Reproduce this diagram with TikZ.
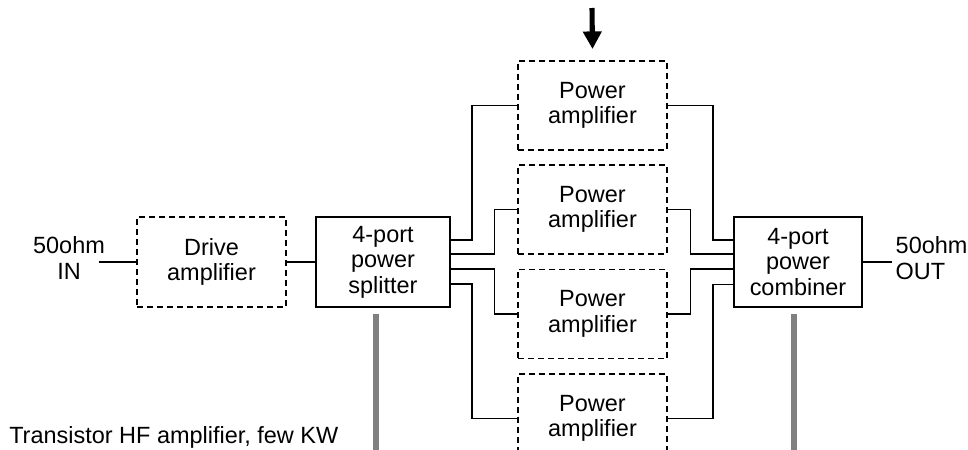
\documentclass[tikz,border=0pt]{standalone}
\usepackage{fontspec}
\setmainfont{Liberation Sans}
\usetikzlibrary{arrows.meta,calc}
\begin{document}
\begin{tikzpicture}[x=0.75pt,y=-0.75pt,
  every node/.style={font=\fontsize{17.6}{19.2}\selectfont},
  dashbox/.style={draw, line width=1.1pt, dash pattern=on 4.5pt off 3pt, inner sep=0pt, align=center},
  solidbox/.style={draw, line width=1.1pt, inner sep=0pt, align=center},
  paamp/.style={dashbox, minimum width=111.75pt, minimum height=67pt},
  wire/.style={line width=1.1pt},
  grayline/.style={line width=4.2pt, draw={rgb,255:red,128;green,128;blue,128}},
  bigarrow/.style={line width=3.8pt, -{Triangle[width=13.5pt,length=13.2pt]}}
]
\useasboundingbox (0,0) rectangle (968,450);
\clip (0,0) rectangle (968,450);

% boxes
\node[dashbox, minimum width=111.75pt, minimum height=67.5pt] (drv) at (211.5,262) {Drive\\amplifier};
\node[solidbox, minimum width=100.5pt, minimum height=67.5pt] (sp) at (383,262) {4-port\\power\\splitter};
\node[solidbox, minimum width=96pt, minimum height=67.5pt] (cb) at (798,262) {4-port\\power\\combiner};
\node[paamp] (pa1) at (592.5,105.5) {Power\\amplifier};
\node[paamp] (pa2) at (592.5,209.5) {Power\\amplifier};
\node[paamp] (pa3) at (592.5,314) {Power\\amplifier};
\node[paamp] (pa4) at (592.5,418.5) {Power\\amplifier};

% labels
\node[align=center] (inlab) at (69,258) {50ohm\\IN};
\node[align=left, anchor=west] (outlab) at (891,258) {50ohm\\OUT};
\node[anchor=base west, inner sep=0pt] (cap) at (9,443) {Transistor HF amplifier, few KW};

% in/out wires
\coordinate (inend) at (99,262);
\coordinate (outend) at (892,262);
\draw[wire] (inend) -- (drv.west);
\draw[wire] (drv.east) -- (sp.west);
\draw[wire] (cb.east) -- (outend);

% splitter to PAs
\draw[wire] ([yshift=16.5pt]sp.east) -| ([xshift=-34pt]pa1.west) -- (pa1.west);
\draw[wire] ([yshift=6pt]sp.east) -| ([xshift=-17pt]pa2.west) -- (pa2.west);
\draw[wire] ([yshift=-5.4pt]sp.east) -| ([xshift=-17pt]pa3.west) -- (pa3.west);
\draw[wire] ([yshift=-16.5pt]sp.east) -| ([xshift=-34pt]pa4.west) -- (pa4.west);

% PAs to combiner
\draw[wire] (pa1.east) -- ([xshift=34pt]pa1.east) |- ([yshift=16.5pt]cb.west);
\draw[wire] (pa2.east) -- ([xshift=17pt]pa2.east) |- ([yshift=6pt]cb.west);
\draw[wire] (pa3.east) -- ([xshift=17pt]pa3.east) |- ([yshift=-5.4pt]cb.west);
\draw[wire] (pa4.east) -- ([xshift=34pt]pa4.east) |- ([yshift=-17pt]cb.west);

% top arrow
\coordinate (arrtop) at (592,8);
\draw[bigarrow] (arrtop) -- ([yshift=8.3pt]pa1.north);

% gray bars
\coordinate (g1top) at (376,314);
\coordinate (g1bot) at (376,452);
\coordinate (g2top) at (794,314);
\coordinate (g2bot) at (794,452);
\draw[grayline] (g1top) -- (g1bot);
\draw[grayline] (g2top) -- (g2bot);
\end{tikzpicture}
\end{document}
